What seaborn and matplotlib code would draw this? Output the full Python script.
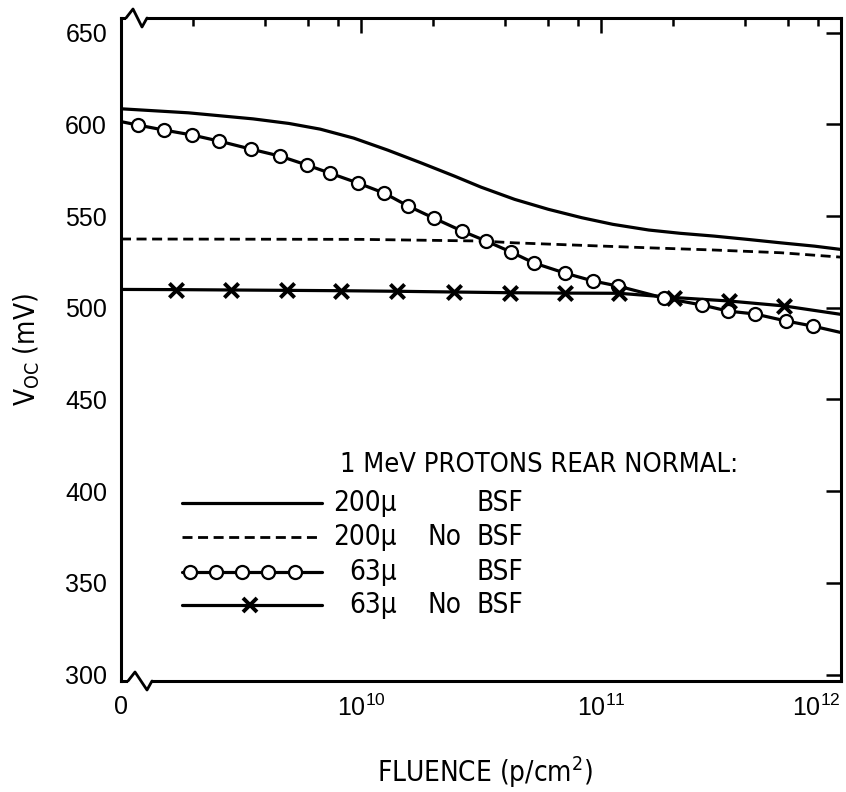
import numpy as np
import pandas as pd
import matplotlib
matplotlib.use("Agg")
import matplotlib.pyplot as plt
import matplotlib.font_manager as fm
import seaborn as sns
from matplotlib.ticker import FixedLocator, NullFormatter
from matplotlib.lines import Line2D

# ---------------- data ----------------
# 200 micron cell, with back surface field (solid line)
fluence_200_bsf = [1.0e9, 1.91e9, 3.55e9, 5.01e9, 6.76e9, 9.33e9, 1.29e10, 1.78e10,
                   2.45e10, 3.16e10, 4.37e10, 6.03e10, 8.32e10, 1.12e11, 1.58e11,
                   2.14e11, 2.95e11, 4.07e11, 5.62e11, 7.76e11, 1.0e12]
voc_200_bsf = [608.5, 606.3, 603.0, 600.5, 597.4, 592.5, 586.0, 579.0,
               571.8, 565.8, 559.1, 553.7, 549.1, 545.5, 542.4,
               540.6, 539.1, 537.3, 535.4, 533.6, 531.8]

# 200 micron cell, no BSF (dashed line)
fluence_200_nobsf = [1.0e9, 1.0e10, 3.16e10, 4.37e10, 1.58e11, 2.95e11, 5.62e11, 1.0e12]
voc_200_nobsf = [537.5, 537.3, 536.4, 535.4, 532.7, 531.5, 530.0, 527.6]

# 63 micron cell, with BSF (circles)
fluence_63_bsf = [1.0e9, 1.18e9, 1.51e9, 1.98e9, 2.56e9, 3.48e9, 4.60e9, 5.96e9, 7.43e9,
                  9.72e9, 1.25e10, 1.57e10, 2.01e10, 2.64e10, 3.32e10, 4.22e10,
                  5.26e10, 7.08e10, 9.27e10, 1.18e11, 1.83e11, 2.64e11, 3.38e11,
                  4.39e11, 5.90e11, 7.64e11, 1.0e12]
voc_63_bsf = [601.5, 599.6, 596.9, 594.2, 590.9, 586.5, 582.7, 577.8, 573.4,
              568.0, 562.5, 555.5, 548.9, 541.8, 536.4, 530.4,
              524.4, 518.9, 514.6, 511.8, 505.3, 501.5, 498.2,
              496.6, 492.8, 490.0, 486.5]
marker_63_bsf = [False] + [True] * 25 + [False]

# 63 micron cell, no BSF (x markers)
fluence_63_nobsf = [1.0e9, 1.69e9, 2.87e9, 4.92e9, 8.26e9, 1.41e10, 2.44e10, 4.18e10,
                    7.08e10, 1.19e11, 2.01e11, 3.41e11, 5.79e11, 1.0e12]
voc_63_nobsf = [510.0, 509.9, 509.7, 509.5, 509.3, 509.0, 508.6, 508.2,
                508.0, 507.9, 505.6, 503.7, 501.0, 496.4]
marker_63_nobsf = [False] + [True] * 12 + [False]

y_ticks = [300, 350, 400, 450, 500, 550, 600, 650]
x_major = [1e9, 1e10, 1e11, 1e12]
x_major_labels = ["0", r"$\mathregular{10^{10}}$", r"$\mathregular{10^{11}}$",
                  r"$\mathregular{10^{12}}$"]
x_minor = [2e9, 4e9, 6e9, 8e9, 2e10, 4e10, 6e10, 8e10, 2e11, 4e11, 6e11, 8e11]

legend_title = "1 MeV PROTONS REAR NORMAL:"
legend_thick = ["200\u00b5", "200\u00b5", "63\u00b5", "63\u00b5"]
legend_nobsf = ["", "No", "", "No"]
legend_bsf = ["BSF", "BSF", "BSF", "BSF"]

# ---------------- fonts: prefer a condensed sans ----------------
ttf = fm.fontManager.ttflist
names = {f.name for f in ttf}
COND_FAMILY, COND_STRETCH = "Liberation Sans", "normal"
if "Liberation Sans Narrow" in names:
    COND_FAMILY, COND_STRETCH = "Liberation Sans Narrow", "normal"
elif any(f.name == "DejaVu Sans" and str(f.stretch) in ("condensed", "semi-condensed", "75", "87")
         for f in ttf):
    COND_FAMILY, COND_STRETCH = "DejaVu Sans", "condensed"
NUM_FAMILY = "Liberation Sans" if "Liberation Sans" in names else "DejaVu Sans"

# ---------------- style ----------------
sns.set_style("white")
plt.rcParams["font.family"] = [COND_FAMILY, "DejaVu Sans"]
plt.rcParams["font.stretch"] = COND_STRETCH
plt.rcParams["mathtext.fontset"] = "custom"
plt.rcParams["mathtext.rm"] = NUM_FAMILY
plt.rcParams["mathtext.it"] = NUM_FAMILY
plt.rcParams["axes.linewidth"] = 2.2
for k in ("text.color", "axes.labelcolor", "xtick.color", "ytick.color", "axes.edgecolor"):
    plt.rcParams[k] = "black"

fig = plt.figure(figsize=(8.46, 7.92), dpi=100)
ax = fig.add_axes([121 / 846, 1 - 681 / 792, 720 / 846, 663 / 792])

LW = 2.3
df1 = pd.DataFrame({"F": fluence_200_bsf, "V": voc_200_bsf})
df2 = pd.DataFrame({"F": fluence_200_nobsf, "V": voc_200_nobsf})
df3 = pd.DataFrame({"F": fluence_63_bsf, "V": voc_63_bsf, "m": marker_63_bsf})
df4 = pd.DataFrame({"F": fluence_63_nobsf, "V": voc_63_nobsf, "m": marker_63_nobsf})

DASH = (0, (3.6, 2.0))
sns.lineplot(data=df1, x="F", y="V", ax=ax, color="black", lw=LW,
             sort=False, estimator=None)
sns.lineplot(data=df2, x="F", y="V", ax=ax, color="black", lw=2.0,
             sort=False, estimator=None, linestyle=DASH)
sns.lineplot(data=df3, x="F", y="V", ax=ax, color="black", lw=LW,
             sort=False, estimator=None)
sns.lineplot(data=df4, x="F", y="V", ax=ax, color="black", lw=LW,
             sort=False, estimator=None)
sns.scatterplot(data=df3[df3["m"]], x="F", y="V", ax=ax, marker="o", s=88,
                facecolor="white", edgecolor="black", linewidth=1.6, zorder=4)
sns.scatterplot(data=df4[df4["m"]], x="F", y="V", ax=ax, marker="x", s=105,
                color="black", linewidth=2.8, zorder=4)

ax.set_xscale("log")
ax.set_xlim(1e9, 1e12)
ax.set_ylim(296.5, 658)

ax.xaxis.set_major_locator(FixedLocator(x_major))
ax.xaxis.set_minor_locator(FixedLocator(x_minor))
ax.xaxis.set_minor_formatter(NullFormatter())
ax.set_xticklabels(x_major_labels)
ax.set_yticks(y_ticks)
ax.set_yticklabels([str(v) for v in y_ticks])

ax.tick_params(which="both", direction="in", top=True, right=True,
               color="black", width=1.8)
ax.tick_params(which="major", length=11, pad=10)
ax.tick_params(which="minor", length=6)
for lab in ax.get_xticklabels() + ax.get_yticklabels():
    lab.set_fontfamily([NUM_FAMILY, "DejaVu Sans"])
    lab.set_fontstretch("normal")
    lab.set_fontsize(18)
    lab.set_color("black")

for s in ax.spines.values():
    s.set_color("black")
    s.set_linewidth(2.2)

ax.set_xlabel(r"FLUENCE (p/cm$^{\mathregular{2}}$)", fontsize=20)
ax.set_ylabel(r"V$_{\mathregular{OC}}$ (mV)", fontsize=20)
ax.xaxis.set_label_coords(0.5056, -0.112)
ax.yaxis.set_label_coords(-0.11, 0.5)

# axis breaks (zig-zags) at the left ends of top and bottom spines
W, H = 720.0, 663.0
def px(dx, dy):
    return dx / W, dy / H
tx = [px(5, 0), px(12, 9), px(21, -9), px(26, 0)]
ax.plot([tx[0][0], tx[3][0]], [1, 1], transform=ax.transAxes, color="white",
        lw=4, clip_on=False, zorder=6, solid_capstyle="butt")
ax.plot([p[0] for p in tx], [1 + p[1] for p in tx], transform=ax.transAxes,
        color="black", lw=2.0, clip_on=False, zorder=7)
bx = [px(7, 0), px(14, 9), px(26, -9), px(31, 0)]
ax.plot([bx[0][0], bx[3][0]], [0, 0], transform=ax.transAxes, color="white",
        lw=4, clip_on=False, zorder=6, solid_capstyle="butt")
ax.plot([p[0] for p in bx], [p[1] for p in bx], transform=ax.transAxes,
        color="black", lw=2.0, clip_on=False, zorder=7)

# legend drawn as a key block inside the axes
T = ax.transAxes
ax.text(0.304, 0.326, legend_title, transform=T, fontsize=19.5, va="center", ha="left")
rows_y = [0.2685, 0.2172, 0.1644, 0.1146]
x0, x1 = 0.0847, 0.279
ax.add_line(Line2D([x0, x1], [rows_y[0]] * 2, transform=T, color="black", lw=LW))
ax.add_line(Line2D([x0, x1], [rows_y[1]] * 2, transform=T, color="black", lw=2.0,
                   linestyle=DASH))
ax.add_line(Line2D([x0, x1], [rows_y[2]] * 2, transform=T, color="black", lw=LW))
circ_x = [(p - 121) / W for p in (190, 216, 242, 268, 295)]
ax.add_line(Line2D(circ_x, [rows_y[2]] * 5, transform=T, linestyle="none",
                   marker="o", markersize=9.4, markerfacecolor="white",
                   markeredgecolor="black", markeredgewidth=1.6, zorder=5))
ax.add_line(Line2D([x0, x1], [rows_y[3]] * 2, transform=T, color="black", lw=LW))
ax.add_line(Line2D([(250 - 121) / W], [rows_y[3]], transform=T, linestyle="none",
                   marker="x", markersize=10, markeredgewidth=2.8,
                   color="black", zorder=5))
for i, y in enumerate(rows_y):
    ax.text(0.383, y, legend_thick[i], transform=T, fontsize=20, va="center", ha="right")
    if legend_nobsf[i]:
        ax.text(0.425, y, legend_nobsf[i], transform=T, fontsize=20, va="center", ha="left")
    ax.text(0.494, y, legend_bsf[i], transform=T, fontsize=20, va="center", ha="left")

# right-align the last x tick label against the right spine
xl = ax.get_xticklabels()
xl[-1].set_horizontalalignment("right")

fig.savefig("out.png", dpi=100)
